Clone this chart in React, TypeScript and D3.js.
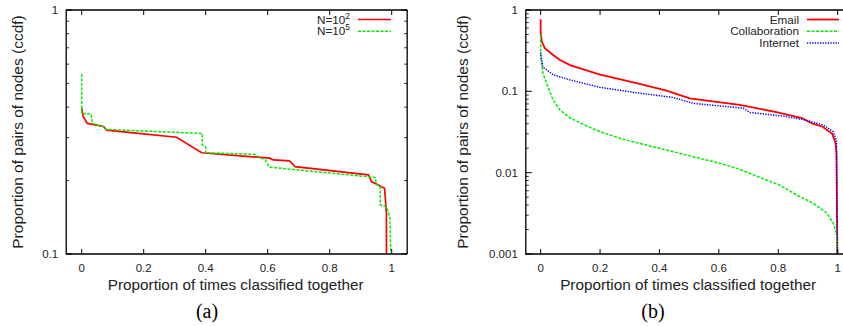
import React from 'react';
import * as d3 from 'd3';

type Pt = [number, number];

// panel (a): ccdf for two sample sizes
const n2Curve: Pt[] = [
  [0, 0.395], [0.005, 0.365], [0.018, 0.343], [0.07, 0.333], [0.08, 0.322],
  [0.306, 0.301], [0.387, 0.26], [0.607, 0.247], [0.618, 0.243], [0.67, 0.241],
  [0.688, 0.228], [0.925, 0.211], [0.935, 0.198], [0.977, 0.186], [0.983, 0.147], [0.983, 0.1],
];
const n5Curve: Pt[] = [
  [0, 0.547], [0, 0.377], [0.031, 0.374], [0.034, 0.343], [0.07, 0.333], [0.08, 0.324],
  [0.389, 0.312], [0.389, 0.28], [0.4, 0.275], [0.4, 0.26], [0.559, 0.256], [0.57, 0.25],
  [0.592, 0.243], [0.605, 0.227], [0.946, 0.206], [0.952, 0.192], [0.963, 0.19], [0.963, 0.159],
  [0.983, 0.156], [0.994, 0.142], [0.997, 0.1],
];

// panel (b): three networks
const emailCurve: Pt[] = [
  [0, 0.77], [0, 0.52], [0.004, 0.41], [0.014, 0.34], [0.042, 0.28], [0.065, 0.243],
  [0.099, 0.21], [0.2, 0.16], [0.323, 0.126], [0.424, 0.102], [0.502, 0.082], [0.67, 0.068],
  [0.79, 0.056], [0.88, 0.047], [0.915, 0.04], [0.948, 0.037], [0.982, 0.03], [0.993, 0.023],
  [0.996, 0.0173], [0.999, 0.001],
];
const collabCurve: Pt[] = [
  [0, 0.49], [0, 0.27], [0.007, 0.17], [0.024, 0.114], [0.042, 0.078], [0.065, 0.059],
  [0.099, 0.047], [0.155, 0.0375], [0.2, 0.032], [0.267, 0.0264], [0.379, 0.0208],
  [0.491, 0.0165], [0.604, 0.013], [0.66, 0.0113], [0.716, 0.0094], [0.806, 0.007],
  [0.862, 0.0053], [0.918, 0.0042], [0.963, 0.0032], [0.985, 0.0024], [0.996, 0.0018], [1.0, 0.001],
];
const internetCurve: Pt[] = [
  [0, 0.3], [0.007, 0.2], [0.042, 0.16], [0.099, 0.138], [0.2, 0.112], [0.323, 0.096],
  [0.447, 0.084], [0.514, 0.071], [0.682, 0.062], [0.705, 0.055], [0.828, 0.049],
  [0.895, 0.044], [0.952, 0.0385], [0.985, 0.032], [0.996, 0.025], [0.999, 0.001],
];

const xTicks = [0, 0.2, 0.4, 0.6, 0.8, 1];
const xTickLabels = ['0', '0.2', '0.4', '0.6', '0.8', '1'];
const yTicksA = [0.1, 1];
const yTickLabelsA = ['0.1', '1'];
const yTicksB = [0.001, 0.01, 0.1, 1];
const yTickLabelsB = ['0.001', '0.01', '0.1', '1'];

const RED = '#ff0000';
const GREEN = '#00ee00';
const BLUE = '#0000ff';

type Series = { name: string; sup?: string; data: Pt[]; color: string; dash?: string; width: number };

const font = '"Liberation Sans", Arial, sans-serif';

function Panel(props: {
  left: number; right: number; top: number; bottom: number; clipRight: number;
  yDomain: [number, number]; yTicks: number[]; yLabels: string[];
  series: Series[]; legendX: number; caption: string; captionX: number; yTitleX: number;
}) {
  const { left, right, top, bottom, yDomain, series } = props;
  const x = d3.scaleLinear().domain([-0.05, 1.05]).range([left, right]);
  const y = d3.scaleLog().domain(yDomain).range([bottom, top]);
  const line = d3.line<Pt>().x(d => x(d[0])).y(d => y(d[1]));

  // minor log ticks (2..9 in each decade)
  const minors: number[] = [];
  for (let e = Math.log10(yDomain[0]); e < Math.log10(yDomain[1]) - 1e-9; e++) {
    for (let k = 2; k <= 9; k++) minors.push(k * Math.pow(10, e));
  }
  const clipId = 'clip' + props.caption.replace(/\W/g, '');
  const frameRight = Math.min(right, props.clipRight);
  const showRight = right <= props.clipRight;
  const midX = (x(0) + x(1)) / 2;

  return (
    <g>
      <defs>
        <clipPath id={clipId}>
          <rect x={left} y={top} width={right - left} height={bottom - top} />
        </clipPath>
      </defs>
      {/* data */}
      <g clipPath={`url(#${clipId})`}>
        {series.map(s => (
          <path key={s.name + s.sup} d={line(s.data) || ''} fill="none" stroke={s.color}
            strokeWidth={s.width} strokeDasharray={s.dash} />
        ))}
      </g>
      {/* frame */}
      <path d={`M${right},${top}H${left}V${bottom}H${right}`} fill="none" stroke="#000" strokeWidth={1.3} />
      {showRight && <line x1={right} x2={right} y1={top} y2={bottom} stroke="#000" strokeWidth={1.3} />}
      {/* x ticks, bottom and top */}
      {xTicks.map((t, i) => (
        <g key={'x' + t}>
          <line x1={x(t)} x2={x(t)} y1={bottom} y2={bottom - 5} stroke="#000" />
          <line x1={x(t)} x2={x(t)} y1={top} y2={top + 5} stroke="#000" />
          <text x={x(t)} y={271.5} textAnchor="middle" fontFamily={font} fontSize={11.5} fill="#222">
            {xTickLabels[i]}
          </text>
        </g>
      ))}
      {/* y ticks */}
      {props.yTicks.map((t, i) => (
        <g key={'y' + t}>
          <line x1={left} x2={left + 6} y1={y(t)} y2={y(t)} stroke="#000" />
          {showRight && <line x1={right} x2={right - 6} y1={y(t)} y2={y(t)} stroke="#000" />}
          <text x={left - 8} y={y(t) + 4} textAnchor="end" fontFamily={font} fontSize={11.5} fill="#222">
            {props.yLabels[i]}
          </text>
        </g>
      ))}
      {minors.map(t => (
        <g key={'m' + t}>
          <line x1={left} x2={left + 3} y1={y(t)} y2={y(t)} stroke="#000" strokeWidth={0.8} />
          {showRight && <line x1={right} x2={right - 3} y1={y(t)} y2={y(t)} stroke="#000" strokeWidth={0.8} />}
        </g>
      ))}
      {/* axis titles */}
      <text x={midX - 1} y={289.5} textAnchor="middle" fontFamily={font} fontSize={15.3} fill="#222">
        Proportion of times classified together
      </text>
      <text transform={`translate(${props.yTitleX},${(top + bottom) / 2}) rotate(-90)`} textAnchor="middle"
        fontFamily={font} fontSize={15.5} fill="#222">
        Proportion of pairs of nodes (ccdf)
      </text>
      <text x={props.captionX} y={318} textAnchor="middle" fontFamily='"Liberation Serif", "DejaVu Serif", serif'
        fontSize={20} fill="#000">
        {props.caption}
      </text>
      {/* legend */}
      {series.map((s, i) => {
        const ly = 19.5 + i * 11.7;
        return (
          <g key={'l' + s.name + s.sup}>
            <text x={props.legendX} y={ly + 4} textAnchor="end" fontFamily={font} fontSize={11.7} fill="#222">
              {s.name}
              {s.sup && <tspan dy={-5} fontSize={8.5}>{s.sup}</tspan>}
            </text>
            <line x1={props.legendX + 8} x2={Math.min(props.legendX + 41, frameRight - 4)} y1={ly} y2={ly}
              stroke={s.color} strokeWidth={s.width} strokeDasharray={s.dash} />
          </g>
        );
      })}
    </g>
  );
}

export default function App() {
  const seriesA: Series[] = [
    { name: 'N=10', sup: '2', data: n2Curve, color: RED, width: 1.7 },
    { name: 'N=10', sup: '5', data: n5Curve, color: GREEN, dash: '3,1.5', width: 1.5 },
  ];
  const seriesB: Series[] = [
    { name: 'Email', data: emailCurve, color: RED, width: 1.8 },
    { name: 'Collaboration', data: collabCurve, color: GREEN, dash: '3,1.5', width: 1.5 },
    { name: 'Internet', data: internetCurve, color: BLUE, dash: '1.3,1.3', width: 1.5 },
  ];
  return (
    <svg width={843} height={326} style={{ position: 'absolute', left: 0, top: 0, background: '#fff' }}>
      <Panel left={66.2} right={407.2} top={10} bottom={254} clipRight={843}
        yDomain={[0.1, 1]} yTicks={yTicksA} yLabels={yTickLabelsA}
        series={seriesA} legendX={350} caption="(a)" captionX={207} yTitleX={23} />
      <Panel left={525.8} right={852.5} top={10} bottom={254} clipRight={843}
        yDomain={[0.001, 1]} yTicks={yTicksB} yLabels={yTickLabelsB}
        series={seriesB} legendX={799} caption="(b)" captionX={653} yTitleX={468} />
    </svg>
  );
}
